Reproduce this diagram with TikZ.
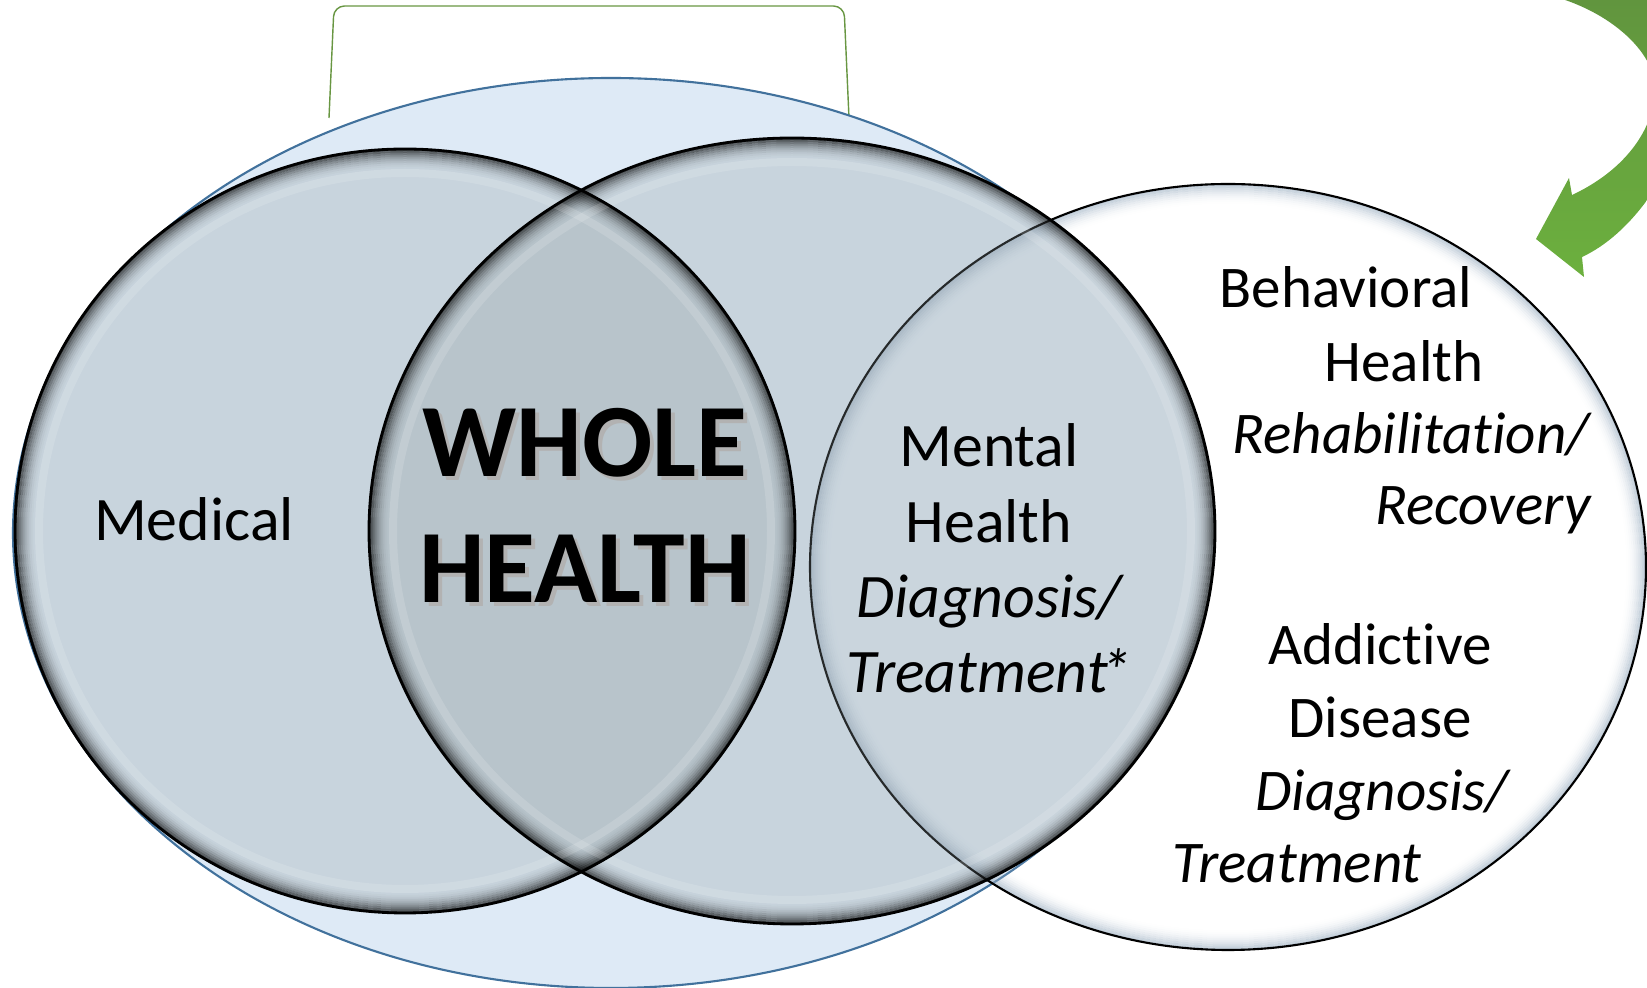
\documentclass[tikz,border=0pt]{standalone}
\usepackage{fontspec}
\setmainfont{Carlito}[Ligatures=NoCommon]
\usepackage{tikz}

\definecolor{bgfill}{RGB}{222,234,246}
\definecolor{bgline}{RGB}{65,113,156}
\definecolor{vennfill}{RGB}{141,153,157}
\definecolor{rimblue}{RGB}{150,170,190}
\definecolor{arrowtop}{RGB}{96,146,62}
\definecolor{arrowbot}{RGB}{108,176,62}
\definecolor{bracketgreen}{RGB}{104,150,66}

\newcommand{\ellrim}[6]{%
	\foreach \k [evaluate=\k as \op using {#6*((10-\k)/10)^2},
		evaluate=\k as \xr using {#3-0.01-0.02*\k},
		evaluate=\k as \yr using {#4-0.01-0.02*\k}] in {0,...,9}
		\draw[draw=#5, line width=0.02cm, draw opacity=\op] (#1,#2) ellipse [x radius=\xr, y radius=\yr];
}
\newcommand{\ellshine}[4]{%
	\draw[white, line width=0.08cm, draw opacity=0.14] (#1,#2) ellipse [x radius=#3-0.24, y radius=#4-0.24];
}

\tikzset{
	bracketline/.style={draw=bracketgreen, line width=0.4pt},
	bgshape/.style={fill=bgfill, draw=bgline, line width=0.6pt},
	underlay/.style={fill=bgfill},
	rightshape/.style={fill=white, fill opacity=0.1},
	rightedge/.style={draw=black, line width=0.6pt},
	vennshape/.style={fill=vennfill, fill opacity=0.27},
	vennedge/.style={draw=black, line width=0.8pt},
	vennword/.style={anchor=base, inner sep=0pt, font=\fontsize{17.6}{21}\selectfont},
	sideword/.style={anchor=base, inner sep=0pt, font=\fontsize{16.8}{20}\selectfont},
	bigword/.style={anchor=base, inner sep=0pt, font=\fontsize{29.6}{35}\selectfont\bfseries}
}

\begin{document}
\begin{tikzpicture}
	\useasboundingbox (0,0) rectangle (16.47,-9.88);
	\clip (0,0) rectangle (16.47,-9.88);
	\draw[bracketline, rounded corners=3pt] (3.29,-1.18) -- (3.34,-0.06) -- (8.44,-0.06) -- (8.49,-1.18);
	\path[bgshape] (6.11,-5.33) ellipse [x radius=5.98, y radius=4.55];
	\path[underlay] (4.05,-5.31) ellipse [x radius=3.90, y radius=3.82];
	\path[underlay] (7.92,-5.31) ellipse [x radius=4.23, y radius=3.93];
	\path[rightshape] (12.28,-5.67) ellipse [x radius=4.18, y radius=3.83];
	\ellrim{12.28}{-5.67}{4.18}{3.83}{rimblue}{0.6}
	\draw[rightedge] (12.28,-5.67) ellipse [x radius=4.18, y radius=3.83];
	\path[vennshape] (4.05,-5.31) ellipse [x radius=3.90, y radius=3.82];
	\path[vennshape] (7.92,-5.31) ellipse [x radius=4.23, y radius=3.93];
	\ellrim{4.05}{-5.31}{3.90}{3.82}{black}{0.65}
	\ellrim{7.92}{-5.31}{4.23}{3.93}{black}{0.65}
	\ellshine{4.05}{-5.31}{3.90}{3.82}
	\ellshine{7.92}{-5.31}{4.23}{3.93}
	\draw[vennedge] (4.05,-5.31) ellipse [x radius=3.90, y radius=3.82];
	\draw[vennedge] (7.92,-5.31) ellipse [x radius=4.23, y radius=3.93];
	\shade[top color=arrowtop, bottom color=arrowbot] (15.48,0.05) .. controls (16.10,-0.10) and (16.60,-0.55) .. (16.55,-0.95)
		.. controls (16.50,-1.40) and (16.15,-1.75) .. (15.72,-1.95) -- (15.69,-1.78) -- (15.36,-2.39) -- (15.84,-2.77) -- (15.82,-2.57)
		.. controls (16.40,-2.30) and (16.90,-1.50) .. (17.00,-0.60) .. controls (17.05,0.00) and (16.90,0.20) .. (16.70,0.30) -- cycle;
	\node[vennword] (medical) at (1.94,-5.41) {Medical};
	\node[bigword, text=black!30] (wholeshade) at (5.89,-4.81) {WHOLE};
	\node[bigword] (whole) at (5.85,-4.77) {WHOLE};
	\node[bigword, text=black!30] (healthshade) at (5.89,-6.07) {HEALTH};
	\node[bigword] (health) at (5.85,-6.03) {HEALTH};
	\node[vennword] (mental1) at (9.89,-4.67) {Mental};
	\node[vennword] (mental2) at (9.89,-5.43) {Health};
	\node[vennword] (mental3) at (9.89,-6.18) {\itshape Diagnosis/};
	\node[vennword] (mental4) at (9.89,-6.93) {\itshape Treatment\kern-0.12em*};
	\node[sideword] (behav1) at (13.46,-3.08) {Behavioral};
	\node[sideword] (behav2) at (14.04,-3.82) {Health};
	\node[sideword] (behav3) at (14.11,-4.54) {\itshape Rehabilitation/};
	\node[sideword] (behav4) at (14.83,-5.25) {\itshape Recovery};
	\node[sideword] (addict1) at (13.80,-6.65) {Addictive};
	\node[sideword] (addict2) at (13.80,-7.38) {Disease};
	\node[sideword] (addict3) at (13.82,-8.11) {\itshape Diagnosis/};
	\node[sideword] (addict4) at (12.97,-8.83) {\itshape Treatment};
\end{tikzpicture}
\end{document}
